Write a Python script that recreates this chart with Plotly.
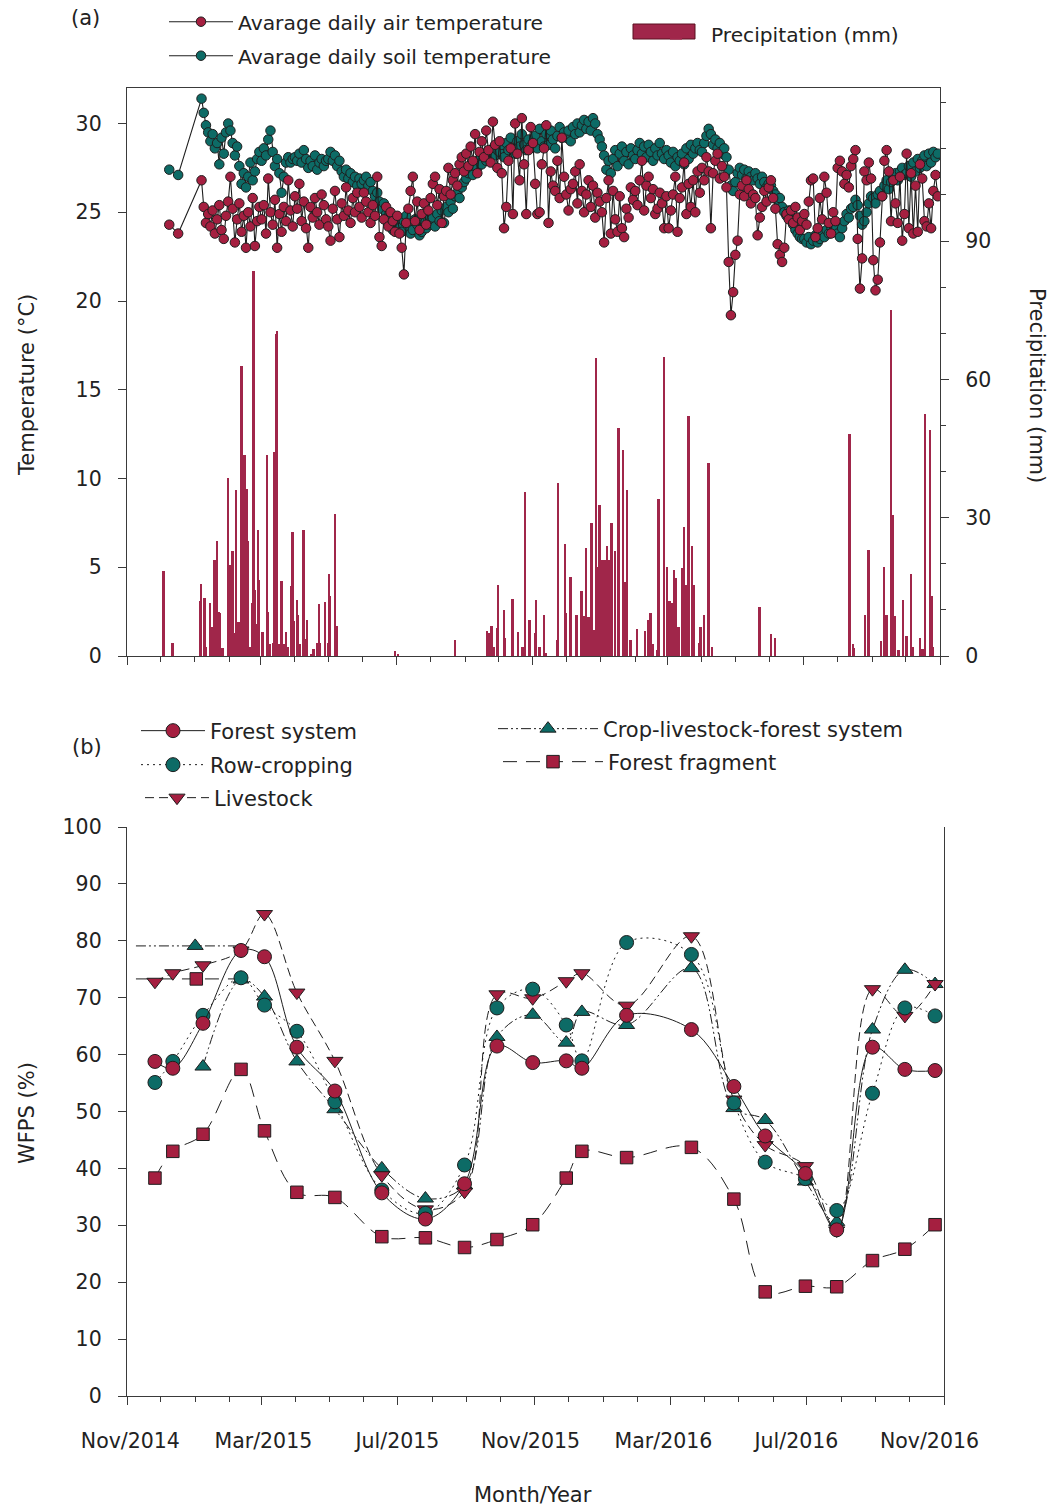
import plotly.graph_objects as go
import pandas as pd

# ---------------- Panel (a): daily temperature (every 2nd day read) ----------------
temp_early_dates = ["2014-12-09", "2014-12-17"]
air_early = [24.3, 23.8]
soil_early = [27.4, 27.1]
daily_start = "2015-01-07"

air_temp = (
    [26.8, 25.3, 24.4, 24.9, 24.2, 25.1, 23.8, 24.6, 25.4, 24.0, 23.5, 24.8, 25.6]            # Jan 15
    + [27.0, 25.2, 23.3, 24.6, 25.5, 23.9, 24.8, 23.0, 25.0, 24.2, 25.8, 23.1, 24.5, 25.3]    # Feb
    + [24.6, 25.4, 23.8, 26.9, 25.0, 24.3, 25.7, 23.0, 24.9, 23.9, 25.3, 24.5, 26.8, 25.1, 24.2]
    + [25.9, 25.2, 26.6, 24.5, 25.6, 24.1, 23.0, 25.3, 24.7, 25.8, 25.0, 24.3, 26.0, 25.4, 24.6]
    + [24.2, 23.4, 25.2, 26.2, 24.6, 23.6, 25.5, 24.8, 26.4, 25.1, 24.4, 25.8, 25.0, 26.1, 25.3, 24.7]
    + [26.1, 25.6, 25.0, 24.4, 25.4, 24.8, 27.0, 23.6, 23.1, 24.6, 25.3, 24.2, 25.0, 24.5, 23.9]
    + [24.8, 23.8, 23.0, 21.5, 24.4, 25.2, 26.2, 27.0, 24.5, 25.6, 24.0, 24.9, 25.5, 24.3, 25.1]
    + [25.8, 26.6, 27.0, 25.4, 26.3, 24.4, 25.9, 26.2, 27.5, 26.0, 26.8, 27.2, 26.5, 27.7, 28.1, 27.3]
    + [28.3, 27.6, 28.7, 27.9, 29.4, 27.2, 28.4, 29.0, 28.1, 29.6, 28.5, 27.8, 30.1, 28.8, 27.5]
    + [29.0, 27.2, 24.1, 25.3, 27.9, 28.6, 24.9, 30.0, 28.3, 26.8, 30.3, 27.7, 24.9, 28.5, 29.8]
    + [28.9, 26.6, 24.9, 25.0, 27.7, 28.6, 29.9, 24.4, 27.3, 26.5, 26.2, 27.9, 25.8, 29.2, 27.0]
    + [26.0, 25.1, 26.3, 26.6, 27.3, 25.5, 27.7, 26.2, 25.0, 26.0, 26.8, 25.3, 26.5, 24.7, 26.1, 25.6]
    + [25.0, 23.3, 25.8, 26.8, 23.8, 26.2, 24.6, 23.9, 25.9, 24.1, 23.6, 25.2, 24.7, 26.4, 25.7]  # Jan 16
    + [26.2, 25.4, 26.8, 27.9, 25.1, 26.5, 27.0, 25.8, 26.3, 24.9, 25.2, 26.1, 25.5, 24.1, 25.9]
    + [24.1, 25.1, 26.0, 27.0, 23.9, 25.8, 26.4, 27.8, 24.9, 26.6, 25.3, 26.8, 25.0, 27.3, 26.1]
    + [27.5, 26.8, 28.1, 27.3, 24.1, 27.2, 27.9, 28.3, 26.9, 27.6, 27.0, 26.4, 22.2, 19.2, 20.5]
    + [22.6, 23.4, 26.0, 26.5, 25.9, 26.8, 26.3, 25.5, 26.0, 25.8, 23.7, 24.7, 25.3, 26.2, 25.6, 26.4]
    + [26.8, 25.8, 25.2, 23.2, 22.6, 22.2, 23.0, 24.9, 24.6, 25.1, 24.4, 25.3, 24.7, 24.0, 24.5]
    + [24.9, 24.3, 25.6, 26.8, 26.9, 23.6, 24.1, 25.8, 24.6, 27.0, 26.1, 24.4, 23.8, 25.0, 24.5]
    + [27.5, 27.9, 27.3, 26.6, 27.1, 26.4, 27.6, 28.0, 28.5, 23.5, 20.7, 22.4, 27.3, 26.8, 27.8, 26.9]
    + [22.3, 20.6, 21.2, 23.3, 25.9, 27.9, 28.5, 27.3, 24.5, 26.8, 25.5, 24.4, 27.0, 23.4, 24.9]
    + [28.3, 24.1, 27.2, 23.8, 26.5, 23.9, 27.7, 26.9, 24.5, 24.2, 25.5, 24.1, 26.2, 27.1, 25.9]
)

soil_temp = (
    [31.4, 30.6, 29.9, 29.5, 29.0, 29.4, 28.6, 28.9, 27.7, 29.2, 28.3, 29.5, 30.0]
    + [29.6, 28.9, 28.2, 28.7, 27.6, 26.6, 27.2, 26.4, 27.0, 27.8, 26.8, 27.3, 28.0, 28.4]
    + [27.9, 28.6, 28.2, 29.1, 29.6, 28.4, 27.6, 28.0, 27.2, 26.1, 27.0, 27.8, 28.1, 27.8, 28.0]
    + [28.1, 27.9, 28.3, 27.8, 28.5, 28.0, 27.5, 27.9, 27.6, 28.2, 27.4, 27.8, 28.0, 27.6, 27.9]
    + [28.0, 28.4, 27.9, 28.2, 27.6, 27.9, 27.3, 27.0, 27.4, 26.9, 27.2, 26.7, 27.0, 26.5, 26.9, 26.6]
    + [26.8, 27.0, 26.5, 26.7, 26.2, 25.9, 26.1, 25.6, 25.2, 25.5, 24.9, 24.6, 24.3, 24.0, 24.2]
    + [24.4, 24.1, 23.9, 24.5, 24.8, 24.2, 23.8, 24.0, 24.6, 24.3, 23.7, 23.9, 24.4, 24.1, 24.6]
    + [24.3, 24.7, 24.2, 24.9, 24.5, 25.1, 24.4, 25.3, 25.0, 25.6, 25.2, 25.9, 26.1, 25.8, 26.4, 26.7]
    + [26.9, 27.2, 27.6, 27.1, 27.8, 27.5, 28.0, 27.7, 28.3, 27.9, 28.4, 28.1, 28.6, 28.2, 28.5]
    + [28.4, 28.8, 28.1, 28.9, 28.5, 29.2, 28.6, 28.3, 29.0, 28.7, 29.4, 28.8, 28.5, 29.1, 28.7]
    + [28.9, 29.3, 28.6, 29.7, 29.0, 28.7, 29.4, 28.8, 29.6, 29.1, 28.6, 29.3, 29.8, 29.2, 29.5]
    + [29.2, 29.6, 29.0, 29.8, 29.4, 30.0, 29.5, 29.9, 30.2, 29.7, 30.1, 29.6, 30.3, 30.0, 29.4, 29.1]
    + [28.7, 28.2, 27.4, 27.9, 27.2, 28.0, 28.5, 27.6, 28.3, 28.7, 27.9, 28.4, 27.7, 28.6, 28.2]
    + [28.0, 28.5, 28.9, 28.3, 28.7, 28.1, 28.8, 28.4, 27.9, 28.6, 28.2, 28.9, 28.3, 28.0, 28.5]
    + [28.2, 27.8, 28.4, 27.6, 28.1, 27.9, 28.3, 27.7, 28.6, 28.0, 28.8, 28.3, 28.6, 28.9, 28.5]
    + [28.4, 28.9, 29.3, 29.7, 29.4, 28.8, 29.1, 28.6, 28.9, 28.3, 28.6, 28.1, 27.4, 26.5, 26.2]
    + [26.7, 27.2, 27.5, 27.1, 27.4, 26.9, 27.3, 27.0, 26.8, 27.2, 26.9, 26.6, 27.0, 26.7, 26.4, 26.6]
    + [26.5, 26.2, 26.0, 25.7, 25.8, 25.3, 25.0, 24.8, 25.1, 24.6, 24.3, 24.0, 23.8, 23.6, 23.5]
    + [23.5, 23.3, 23.6, 23.2, 23.4, 23.7, 23.3, 23.5, 23.9, 23.6, 24.0, 23.8, 24.2, 23.9, 24.1]
    + [23.8, 23.6, 24.1, 24.5, 24.9, 24.7, 25.2, 25.3, 25.7, 25.4, 24.8, 24.3, 24.5, 25.0, 25.5, 25.9]
    + [25.8, 25.5, 26.0, 26.2, 25.9, 26.5, 26.8, 26.3, 26.7, 27.0, 27.2, 26.8, 27.3, 27.5, 27.1]
    + [27.2, 27.6, 27.0, 27.8, 27.3, 28.0, 27.5, 27.9, 28.2, 27.6, 28.3, 27.8, 28.4, 28.1, 28.3]
)

# ---------------- Panel (a): daily precipitation (mm) ----------------
precip_dates = [
    "2014-12-04", "2014-12-12", "2015-01-06", "2015-01-07", "2015-01-10", "2015-01-11", "2015-01-15",
    "2015-01-17", "2015-01-19", "2015-01-21", "2015-01-23", "2015-01-24", "2015-01-26", "2015-01-31",
    "2015-02-02", "2015-02-04", "2015-02-05", "2015-02-07", "2015-02-09", "2015-02-10", "2015-02-12",
    "2015-02-14", "2015-02-15", "2015-02-17", "2015-02-18", "2015-02-20", "2015-02-22", "2015-02-23",
    "2015-02-24", "2015-02-26", "2015-02-27", "2015-02-28", "2015-03-03", "2015-03-07", "2015-03-08",
    "2015-03-10", "2015-03-13", "2015-03-14", "2015-03-15", "2015-03-16", "2015-03-18", "2015-03-20",
    "2015-03-22", "2015-03-24", "2015-03-26", "2015-03-29", "2015-03-30", "2015-03-31", "2015-04-03",
    "2015-04-04", "2015-04-06", "2015-04-09", "2015-04-11", "2015-04-12", "2015-04-16", "2015-04-18",
    "2015-04-21", "2015-04-23", "2015-04-24", "2015-04-28", "2015-05-01", "2015-05-02", "2015-05-03",
    "2015-05-07", "2015-05-09", "2015-06-30", "2015-07-03", "2015-08-23", "2015-09-21", "2015-09-23",
    "2015-09-25", "2015-09-27", "2015-09-30", "2015-10-01", "2015-10-06", "2015-10-07", "2015-10-14",
    "2015-10-19", "2015-10-23", "2015-10-25", "2015-10-29", "2015-11-03", "2015-11-04", "2015-11-07",
    "2015-11-11", "2015-11-13", "2015-11-23", "2015-11-24", "2015-11-30", "2015-12-01", "2015-12-05",
    "2015-12-10", "2015-12-11", "2015-12-15", "2015-12-17", "2015-12-19", "2015-12-21", "2015-12-23",
    "2015-12-24", "2015-12-26", "2015-12-28", "2015-12-29", "2015-12-31", "2016-01-02", "2016-01-03",
    "2016-01-05", "2016-01-07", "2016-01-09", "2016-01-11", "2016-01-14", "2016-01-17", "2016-01-21",
    "2016-01-23", "2016-01-25", "2016-01-28", "2016-02-03", "2016-02-10", "2016-02-13", "2016-02-15",
    "2016-02-17", "2016-02-21", "2016-02-22", "2016-02-27", "2016-03-01", "2016-03-03", "2016-03-05",
    "2016-03-07", "2016-03-09", "2016-03-11", "2016-03-14", "2016-03-16", "2016-03-18", "2016-03-20",
    "2016-03-23", "2016-03-25", "2016-03-30", "2016-03-31", "2016-04-03", "2016-04-07", "2016-04-10",
    "2016-05-23", "2016-06-02", "2016-06-06", "2016-08-12", "2016-08-15", "2016-08-16", "2016-08-26",
    "2016-08-29", "2016-09-09", "2016-09-12", "2016-09-14", "2016-09-18", "2016-09-20", "2016-09-22",
    "2016-09-25", "2016-09-29", "2016-10-02", "2016-10-06", "2016-10-08", "2016-10-14", "2016-10-16",
    "2016-10-17", "2016-10-19", "2016-10-23", "2016-10-25", "2016-10-26",
]
precip_mm = [
    18.4, 2.9, 11.9, 15.6, 12.6, 2.0, 11.6,
    6.3, 20.8, 25.0, 9.6, 9.3, 1.7, 38.6,
    19.7, 22.8, 4.9, 35.9, 7.4, 7.4, 62.8,
    14.0, 43.5, 36.2, 25.0, 2.0, 11.6, 83.6,
    14.3, 7.0, 27.3, 16.5, 5.2, 43.6, 9.6,
    2.7, 2.9, 44.3, 69.8, 70.5, 2.7, 16.3,
    2.7, 5.2, 2.0, 15.2, 27.0, 7.7, 12.2,
    9.0, 2.7, 27.3, 3.6, 7.9, 0.5, 1.6,
    2.9, 11.3, 2.9, 11.8, 2.9, 17.8, 13.0,
    30.7, 6.4, 1.0, 0.5, 3.4, 5.4, 4.9,
    6.4, 2.0, 6.1, 15.4, 10.0, 4.0, 12.4,
    5.2, 2.0, 35.6, 7.9, 5.0, 12.2, 2.0,
    9.0, 0.6, 3.4, 37.6, 24.2, 9.3, 17.2,
    9.0, 8.8, 14.1, 8.7, 23.5, 8.5, 8.0,
    28.8, 5.6, 64.6, 19.4, 32.8, 20.8, 20.8,
    20.8, 23.9, 20.8, 28.8, 22.8, 49.4, 44.6,
    16.0, 36.0, 3.4, 5.8, 5.5, 7.9, 9.3,
    2.7, 1.2, 34.0, 64.9, 19.4, 11.9, 11.6,
    18.7, 17.0, 6.2, 19.0, 28.0, 15.4, 52.0,
    23.9, 15.4, 2.9, 6.2, 9.0, 41.9, 2.0,
    10.7, 4.8, 4.0, 48.1, 2.6, 1.8, 9.0,
    23.1, 3.3, 19.4, 9.0, 75.0, 30.5, 8.7,
    1.2, 12.2, 4.3, 17.7, 2.0, 4.0, 1.6,
    1.5, 52.5, 49.0, 13.0, 2.0,
]

# ---------------- Panel (b): WFPS (%) ----------------
wfps_dates = [
    "2014-11-26", "2014-12-12", "2015-01-08", "2015-02-11", "2015-03-04", "2015-04-02",
    "2015-05-06", "2015-06-17", "2015-07-26", "2015-08-30", "2015-09-28", "2015-10-30",
    "2015-11-29", "2015-12-13", "2016-01-22", "2016-03-20", "2016-04-27", "2016-05-25",
    "2016-06-30", "2016-07-28", "2016-08-29", "2016-09-27", "2016-10-24",
]
forest_system = [58.8, 57.6, 65.5, 78.3, 77.2, 61.3, 53.6, 35.7, 31.1, 37.3, 61.5, 58.6,
                 58.9, 57.6, 66.9, 64.4, 54.4, 45.7, 39.1, 29.2, 61.3, 57.4, 57.2]
row_cropping = [55.1, 58.8, 66.9, 73.5, 68.7, 64.1, 51.7, 36.2, 32.1, 40.6, 68.2, 71.5,
                65.2, 58.9, 79.7, 77.6, 51.5, 41.1, 38.2, 32.6, 53.2, 68.2, 66.8]
livestock = [72.8, 74.3, 75.7, 78.3, 84.7, 70.9, 58.9, 38.8, 32.8, 35.9, 70.6, 69.9,
             72.9, 74.3, 68.6, 80.8, 52.1, 44.1, 40.4, 29.1, 71.5, 66.8, 72.4]
crop_livestock_forest = [None, None, 57.9, 73.2, 70.2, 58.8, 50.4, 40.0, 34.7, 37.0, 63.1, 67.0,
                         62.1, 67.5, 65.2, 75.2, 50.6, 48.5, 37.7, 30.6, 64.4, 74.9, 72.4]
forest_fragment = [38.3, 43.0, 46.0, 57.4, 46.6, 35.8, 34.9, 28.0, 27.8, 26.1, 27.5, 30.1,
                   38.3, 43.0, 41.9, 43.7, 34.6, 18.3, 19.3, 19.2, 23.8, 25.8, 30.1]

# stray key symbols drawn inside panel (b) of the original
stray_clf_dates = ["2014-11-09", "2015-01-01", "2015-02-10"]
stray_clf_vals = [79.1, 79.1, 79.1]
stray_ff_dates = ["2014-11-09", "2015-01-02", "2015-02-10"]
stray_ff_vals = [73.3, 73.3, 73.3]

# bottom axis labels (placed as in the original, slightly off the month ticks)
x_tick_labels = ["Nov/2014", "Mar/2015", "Jul/2015", "Nov/2015", "Mar/2016", "Jul/2016", "Nov/2016"]
x_label_dates = ["2014-11-04", "2015-03-03", "2015-07-01", "2015-10-28", "2016-02-24",
                 "2016-06-22", "2016-10-19"]

# ---------------- styling / layout ----------------
RED = "#A51F40"
TEAL = "#0D6B66"
BARC = "#A0264A"
INK = "#1e1e1e"
AX = "#3a3a3a"
FONT = "DejaVu Sans"
FS = 21

W, H = 1062, 1508
L, R, T, B = 127, 1062 - 944, 88, 1508 - 1396
PW, PH = W - L - R, H - T - B


def pxp(x):
    return (x - L) / PW


def pyp(y):
    return (H - B - y) / PH


daily_dates = pd.date_range(daily_start, periods=len(air_temp), freq="2D")
temp_dates = list(pd.to_datetime(temp_early_dates)) + list(daily_dates)
XRANGE = ["2014-11-01", "2016-11-01"]

fig = go.Figure()

fig.add_trace(go.Bar(
    x=precip_dates, y=precip_mm, width=1.7 * 86400000,
    marker=dict(color=BARC, line=dict(width=0)),
    name="Precipitation (mm)", xaxis="x", yaxis="y2", legend="legend3",
))

fig.add_trace(go.Scatter(
    x=temp_dates, y=soil_early + soil_temp, mode="lines+markers",
    line=dict(color=INK, width=1.1),
    marker=dict(size=9.5, color=TEAL, line=dict(color=INK, width=1)),
    name="Avarage daily soil temperature", xaxis="x", yaxis="y", legend="legend2",
))
fig.add_trace(go.Scatter(
    x=temp_dates, y=air_early + air_temp, mode="lines+markers",
    line=dict(color=INK, width=1.1),
    marker=dict(size=9.5, color=RED, line=dict(color=INK, width=1)),
    name="Avarage daily air temperature", xaxis="x", yaxis="y", legend="legend",
))

# carrier for the bottom label axis (no visible marks)
fig.add_trace(go.Scatter(
    x=XRANGE, y=[None, None], mode="lines", showlegend=False, hoverinfo="skip",
    xaxis="x3", yaxis="y3",
))

# panel (b)
series_b = [
    ("Forest fragment", forest_fragment, "square", RED, "14px,9px", 12.5, "legend8"),
    ("Crop-livestock-forest system", crop_livestock_forest, "triangle-up", TEAL,
     "10px,3px,2px,3px,2px,3px", 14, "legend7"),
    ("Livestock", livestock, "triangle-down", RED, "9px,5px", 14, "legend6"),
    ("Row-cropping", row_cropping, "circle", TEAL, "2px,4px", 14, "legend5"),
    ("Forest system", forest_system, "circle", RED, "solid", 14, "legend4"),
]
fig.add_trace(go.Scatter(
    x=stray_ff_dates, y=stray_ff_vals, mode="lines+markers",
    line=dict(color=INK, width=1, dash="14px,9px"),
    marker=dict(symbol="square", size=[0, 12.5, 0], opacity=1, color=RED,
                line=dict(color=INK, width=1)),
    showlegend=False, xaxis="x2", yaxis="y3", hoverinfo="skip",
))
fig.add_trace(go.Scatter(
    x=stray_clf_dates, y=stray_clf_vals, mode="lines+markers",
    line=dict(color=INK, width=1, dash="10px,3px,2px,3px,2px,3px"),
    marker=dict(symbol="triangle-up", size=[0, 14, 0], opacity=1, color=TEAL,
                line=dict(color=INK, width=1)),
    showlegend=False, xaxis="x2", yaxis="y3", hoverinfo="skip",
))
for name, vals, sym, col, dash, size, lg in series_b:
    fig.add_trace(go.Scatter(
        x=wfps_dates, y=vals, mode="lines+markers", connectgaps=False,
        line=dict(color=INK, width=1, dash=dash, shape="spline", smoothing=1.0),
        marker=dict(symbol=sym, size=size, color=col, line=dict(color=INK, width=1)),
        name=name, xaxis="x2", yaxis="y3", legend=lg,
    ))

tickfont = dict(family=FONT, size=20.5, color="#222")
common_x = dict(
    type="date", range=XRANGE, tick0="2014-11-01", dtick="M4",
    ticks="outside", ticklen=8, tickwidth=1.2, tickcolor=AX,
    minor=dict(dtick="M1", ticks="outside", ticklen=5, tickwidth=1.2, tickcolor=AX),
    showline=True, linecolor=AX, linewidth=1.4, showgrid=False, zeroline=False,
)

legend_base = dict(
    bgcolor="rgba(0,0,0,0)", borderwidth=0,
    xanchor="left", yanchor="middle", orientation="v",
)


def leg(xp, yp, fsize=FS, **kw):
    d = dict(legend_base)
    d.update(x=pxp(xp), y=pyp(yp), font=dict(family=FONT, size=fsize, color="#222"))
    d.update(kw)
    return d


fig.update_layout(
    width=W, height=H,
    margin=dict(l=L, r=R, t=T, b=B, pad=0, autoexpand=False),
    paper_bgcolor="white", plot_bgcolor="white",
    font=dict(family=FONT, size=FS, color="#222"),
    showlegend=True, bargap=0,
    xaxis=dict(common_x, domain=[0, pxp(940)], anchor="y", showticklabels=False, mirror=True),
    yaxis=dict(domain=[pyp(656), 1.0], range=[0, 32], dtick=5, tick0=0,
               ticks="outside", ticklen=8, tickwidth=1.2, tickcolor=AX,
               showline=True, linecolor=AX, linewidth=1.4, showgrid=False, zeroline=False,
               tickfont=tickfont, ticklabelstandoff=12, anchor="x"),
    yaxis2=dict(overlaying="y", side="right", anchor="x", range=[0, 123.2],
                tickvals=[0, 30, 60, 90], ticks="outside", ticklen=8, tickwidth=1.2, tickcolor=AX,
                minor=dict(dtick=10, tick0=0, ticks="outside", ticklen=5, tickwidth=1.2, tickcolor=AX),
                showline=True, linecolor=AX, linewidth=1.4, showgrid=False, zeroline=False,
                tickfont=tickfont, ticklabelstandoff=12),
    xaxis2=dict(common_x, domain=[0, 1], anchor="y3", showticklabels=False),
    xaxis3=dict(type="date", range=XRANGE, overlaying="x2", anchor="y3", side="bottom",
                tickmode="array", tickvals=x_label_dates, ticktext=x_tick_labels,
                ticks="", showline=False, showgrid=False, zeroline=False, showticklabels=True,
                tickfont=tickfont, ticklabelstandoff=30),
    yaxis3=dict(domain=[0, pyp(827)], range=[0, 100], dtick=10, tick0=0, anchor="x2",
                ticks="outside", ticklen=8, tickwidth=1.2, tickcolor=AX,
                showline=True, linecolor=AX, linewidth=1.4, mirror=True,
                showgrid=False, zeroline=False, tickfont=tickfont, ticklabelstandoff=12),
    legend=leg(164, 22, fsize=20.3, itemwidth=64),
    legend2=leg(164, 56, fsize=20.3, itemwidth=64),
    legend3=leg(641, 34, fsize=20.2, itemwidth=60),
    legend4=leg(136, 731, itemwidth=64),
    legend5=leg(136, 765, itemwidth=64),
    legend6=leg(140, 798, itemwidth=64),
    legend7=leg(493, 729, itemwidth=100),
    legend8=leg(498, 762, itemwidth=100),
)

# wide key swatch behind the precipitation legend symbol
fig.add_shape(type="rect", xref="paper", yref="paper",
              x0=pxp(633), x1=pxp(695), y0=pyp(39), y1=pyp(24),
              fillcolor=BARC, line=dict(color="#5a1020", width=1), layer="below")

ann_font = dict(family=FONT, size=FS, color="#222")
annotations = [
    dict(text="(a)", x=pxp(85), y=pyp(18), textangle=0),
    dict(text="(b)", x=pxp(87), y=pyp(747), textangle=0),
    dict(text="Temperature (°C)", x=pxp(27), y=pyp(385), textangle=-90),
    dict(text="Precipitation (mm)", x=pxp(1037), y=pyp(385), textangle=90),
    dict(text="WFPS (%)", x=pxp(27), y=pyp(1113), textangle=-90),
    dict(text="Month/Year", x=pxp(533), y=pyp(1495), textangle=0),
]
fig.update_layout(annotations=[
    dict(a, xref="paper", yref="paper", showarrow=False, xanchor="center", yanchor="middle",
         font=ann_font) for a in annotations
])

fig.write_html("out.html")
